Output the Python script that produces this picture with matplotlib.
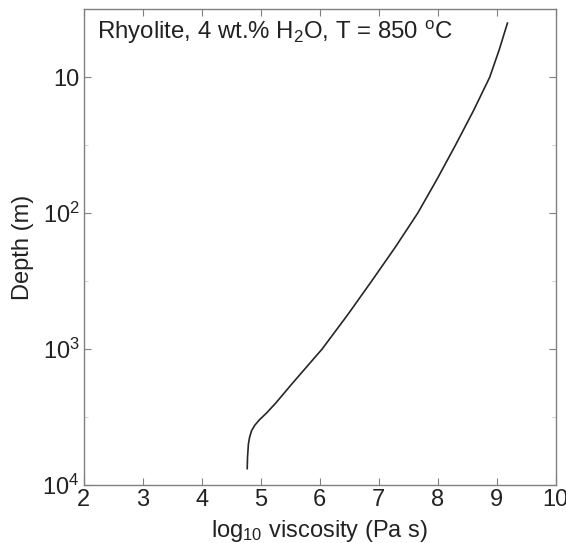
import matplotlib
matplotlib.use("Agg")
import matplotlib.pyplot as plt
from matplotlib.ticker import FixedLocator, FixedFormatter, NullFormatter

plt.rcParams['font.family'] = ['Liberation Sans', 'DejaVu Sans']
plt.rcParams['mathtext.fontset'] = 'custom'
plt.rcParams['mathtext.rm'] = 'Liberation Sans'
plt.rcParams['mathtext.it'] = 'Liberation Sans'
plt.rcParams['mathtext.default'] = 'regular'

# viscosity profile down the conduit
depth = [4.0, 6.3, 10, 17.8, 31.6, 56, 100, 178, 316, 562, 1000, 1780,
         2510, 2950, 3310, 3630, 3980, 4470, 5010, 6310, 7590]
log_visc = [9.18, 9.04, 8.88, 8.60, 8.30, 7.99, 7.66, 7.28, 6.88, 6.47, 6.04, 5.54,
            5.25, 5.10, 4.98, 4.90, 4.845, 4.81, 4.79, 4.775, 4.77]

xticks = [2, 3, 4, 5, 6, 7, 8, 9, 10]
yticks = [10, 100, 1000, 10000]
yticklabels = ['10', '10$^2$', '10$^3$', '10$^4$']

fig = plt.figure(figsize=(5.66, 5.43), dpi=100)
ax = fig.add_axes([0.148, 0.107, 0.834, 0.876])

ax.plot(log_visc, depth, color='#262626', lw=1.2)

ax.set_yscale('log')
ax.set_xlim(2, 10)
ax.set_ylim(10**4, 10**0.5)

ax.xaxis.set_major_locator(FixedLocator(xticks))
ax.yaxis.set_major_locator(FixedLocator(yticks))
ax.yaxis.set_major_formatter(FixedFormatter(yticklabels))
ax.yaxis.set_minor_locator(FixedLocator([10**1.5, 10**2.5, 10**3.5]))
ax.yaxis.set_minor_formatter(NullFormatter())

for s in ax.spines.values():
    s.set_color('#808080')
    s.set_linewidth(1.0)

ax.tick_params(which='major', direction='in', length=5, width=0.8, color='#808080',
               top=True, right=True, labelsize=17, labelcolor='#222222', pad=3)
ax.tick_params(which='minor', direction='in', length=3, width=0.6, color='#c8c8c8',
               left=True, right=True)

ax.set_xlabel('log$_{10}$ viscosity (Pa s)', fontsize=17, color='#222222', labelpad=5)
ax.set_ylabel('Depth (m)', fontsize=17, color='#222222', labelpad=6)

ax.text(0.028, 0.98, 'Rhyolite, 4 wt.% H$_2$O, T = 850 $^o$C', transform=ax.transAxes,
        ha='left', va='top', fontsize=17.3, color='#222222')

fig.savefig('out.png', dpi=100)
